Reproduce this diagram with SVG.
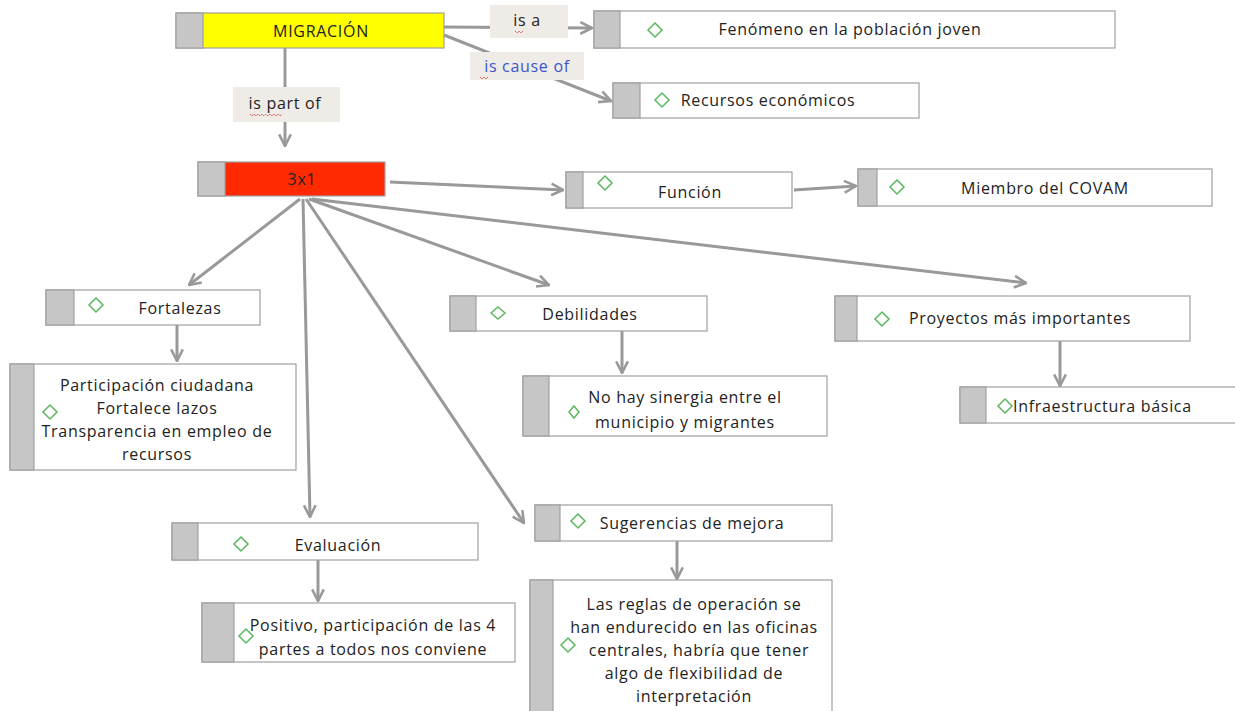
<svg xmlns="http://www.w3.org/2000/svg" width="1235" height="711" viewBox="0 0 1235 711">
<defs>
<marker id="arr" viewBox="0 0 12 12" refX="11" refY="6" markerWidth="14" markerHeight="14" markerUnits="userSpaceOnUse" orient="auto">
<path d="M1,1 L11,6 L1,11" fill="none" stroke="#999" stroke-width="2.2"/>
</marker>
<style>
.box{fill:#fff;stroke:#a0a0a0;stroke-width:1.2}
.tab{fill:#c6c6c6;stroke:#a0a0a0;stroke-width:1.2}
.dia{fill:none;stroke:#5cb85c;stroke-width:1.5}
.t{font-family:"Open Sans","Liberation Sans",sans-serif;font-size:16px;letter-spacing:0.7px;fill:#222;text-anchor:middle}
.c{fill:none;stroke:#999;stroke-width:3;marker-end:url(#arr)}
.lbl{fill:#efebe6}
.sq{fill:none;stroke:#e05050;stroke-width:1;stroke-dasharray:2 1}
</style>
</defs>
<rect width="1235" height="711" fill="#fff"/>
<g id="connectors">
<line class="c" x1="444" y1="27" x2="592" y2="28"/>
<line class="c" x1="444" y1="35" x2="611" y2="101"/>
<line class="c" x1="285" y1="48" x2="285" y2="146"/>
<line class="c" x1="390" y1="182" x2="563" y2="190"/>
<line class="c" x1="794" y1="190" x2="856" y2="186"/>
<line class="c" x1="300" y1="199" x2="189" y2="285"/>
<line class="c" x1="303" y1="199" x2="310" y2="517"/>
<line class="c" x1="306" y1="199" x2="524" y2="523"/>
<line class="c" x1="309" y1="199" x2="549" y2="285"/>
<line class="c" x1="312" y1="199" x2="1026" y2="283"/>
<line class="c" x1="177" y1="325" x2="177" y2="361"/>
<line class="c" x1="622" y1="331" x2="622" y2="373"/>
<line class="c" x1="1060" y1="341" x2="1060" y2="386"/>
<line class="c" x1="318" y1="560" x2="318" y2="601"/>
<line class="c" x1="677" y1="541" x2="677" y2="579"/>
</g>
<g id="label-isa">
<rect class="lbl" x="490" y="5" width="78" height="33"/>
<text class="t" x="527" y="26">is a</text>
<path class="sq" d="M515,31 l2,2 l2,-2 l2,2 l2,-2"/>
</g>
<g id="label-iscause">
<rect class="lbl" x="470" y="52" width="114" height="28"/>
<text class="t" x="527" y="72" style="fill:#3a55d0">is cause of</text>
<path class="sq" d="M480,77 l2,2 l2,-2 l2,2 l2,-2"/>
</g>
<g id="label-ispartof">
<rect class="lbl" x="233" y="87" width="107" height="35"/>
<text class="t" x="285" y="109">is part of</text>
<path class="sq" d="M250,114 l2,2 l2,-2 l2,2 l2,-2 l2,2 l2,-2 l2,2 l2,-2 l2,2 l2,-2 l2,2 l2,-2 l2,2 l2,-2 l2,2 l2,-2"/>
</g>
<g id="n-migracion">
<rect x="176" y="13" width="268" height="35" fill="#ffff00" stroke="#a0a0a0" stroke-width="1.2"/>
<rect class="tab" x="176" y="13" width="27" height="35"/>
<text class="t" x="321" y="37">MIGRACIÓN</text>
</g>
<g id="n-fenomeno">
<rect class="box" x="594" y="11" width="521" height="37"/>
<rect class="tab" x="594" y="11" width="26" height="37"/>
<path class="dia" d="M655,23 L662,30 L655,37 L648,30 Z"/>
<text class="t" x="850" y="35">Fenómeno en la población joven</text>
</g>
<g id="n-recursos">
<rect class="box" x="613" y="83" width="306" height="35"/>
<rect class="tab" x="613" y="83" width="27" height="35"/>
<path class="dia" d="M662,93 L669,100 L662,107 L655,100 Z"/>
<text class="t" x="768" y="106">Recursos económicos</text>
</g>
<g id="n-3x1">
<rect x="198" y="162" width="187" height="34" fill="#ff2a00" stroke="#a0a0a0" stroke-width="1.2"/>
<rect class="tab" x="198" y="162" width="27" height="34"/>
<text class="t" x="302" y="185">3x1</text>
</g>
<g id="n-funcion">
<rect class="box" x="566" y="172" width="226" height="36"/>
<rect class="tab" x="566" y="172" width="17" height="36"/>
<path class="dia" d="M605,176 L612,183 L605,190 L598,183 Z"/>
<text class="t" x="690" y="198">Función</text>
</g>
<g id="n-miembro">
<rect class="box" x="858" y="169" width="354" height="37"/>
<rect class="tab" x="858" y="169" width="19" height="37"/>
<path class="dia" d="M897,180 L904,187 L897,194 L890,187 Z"/>
<text class="t" x="1045" y="194">Miembro del COVAM</text>
</g>
<g id="n-fortalezas">
<rect class="box" x="46" y="290" width="214" height="35"/>
<rect class="tab" x="46" y="290" width="28" height="35"/>
<path class="dia" d="M96,298 L103,305 L96,312 L89,305 Z"/>
<text class="t" x="180" y="314">Fortalezas</text>
</g>
<g id="n-participacion">
<rect class="box" x="10" y="364" width="286" height="106"/>
<rect class="tab" x="10" y="364" width="24" height="106"/>
<path class="dia" d="M50,405 L57,412 L50,419 L43,412 Z"/>
<text class="t" x="157" y="391">Participación ciudadana</text>
<text class="t" x="157" y="414">Fortalece lazos</text>
<text class="t" x="157" y="437">Transparencia en empleo de</text>
<text class="t" x="157" y="460">recursos</text>
</g>
<g id="n-debilidades">
<rect class="box" x="450" y="296" width="257" height="35"/>
<rect class="tab" x="450" y="296" width="26" height="35"/>
<path class="dia" d="M498,307 L505,313 L498,319 L491,313 Z"/>
<text class="t" x="590" y="320">Debilidades</text>
</g>
<g id="n-sinergia">
<rect class="box" x="523" y="376" width="304" height="60"/>
<rect class="tab" x="523" y="376" width="26" height="60"/>
<path class="dia" d="M574,406 L579,412 L574,418 L569,412 Z"/>
<text class="t" x="685" y="403">No hay sinergia entre el</text>
<text class="t" x="685" y="428">municipio y migrantes</text>
</g>
<g id="n-proyectos">
<rect class="box" x="835" y="296" width="355" height="45"/>
<rect class="tab" x="835" y="296" width="22" height="45"/>
<path class="dia" d="M882,312 L889,319 L882,326 L875,319 Z"/>
<text class="t" x="1020" y="324">Proyectos más importantes</text>
</g>
<g id="n-infra">
<rect class="box" x="960" y="387" width="280" height="36"/>
<rect class="tab" x="960" y="387" width="26" height="36"/>
<path class="dia" d="M1005,399 L1012,406 L1005,413 L998,406 Z"/>
<text class="t" x="1013" y="412" style="text-anchor:start">Infraestructura básica</text>
</g>
<g id="n-evaluacion">
<rect class="box" x="172" y="523" width="306" height="37"/>
<rect class="tab" x="172" y="523" width="26" height="37"/>
<path class="dia" d="M241,537 L248,544 L241,551 L234,544 Z"/>
<text class="t" x="338" y="551">Evaluación</text>
</g>
<g id="n-positivo">
<rect class="box" x="202" y="603" width="313" height="59"/>
<rect class="tab" x="202" y="603" width="32" height="59"/>
<path class="dia" d="M246,629 L253,636 L246,643 L239,636 Z"/>
<text class="t" x="373" y="631">Positivo, participación de las 4</text>
<text class="t" x="373" y="655">partes a todos nos conviene</text>
</g>
<g id="n-sugerencias">
<rect class="box" x="535" y="505" width="297" height="36"/>
<rect class="tab" x="535" y="505" width="25" height="36"/>
<path class="dia" d="M578,514 L585,521 L578,528 L571,521 Z"/>
<text class="t" x="692" y="529">Sugerencias de mejora</text>
</g>
<g id="n-reglas">
<rect class="box" x="530" y="580" width="302" height="135"/>
<rect class="tab" x="530" y="580" width="23" height="135"/>
<path class="dia" d="M568,638 L575,645 L568,652 L561,645 Z"/>
<text class="t" x="694" y="610">Las reglas de operación se</text>
<text class="t" x="694" y="633">han endurecido en las oficinas</text>
<text class="t" x="699" y="656">centrales, habría que tener</text>
<text class="t" x="694" y="679">algo de flexibilidad de</text>
<text class="t" x="694" y="702">interpretación</text>
</g>
</svg>
